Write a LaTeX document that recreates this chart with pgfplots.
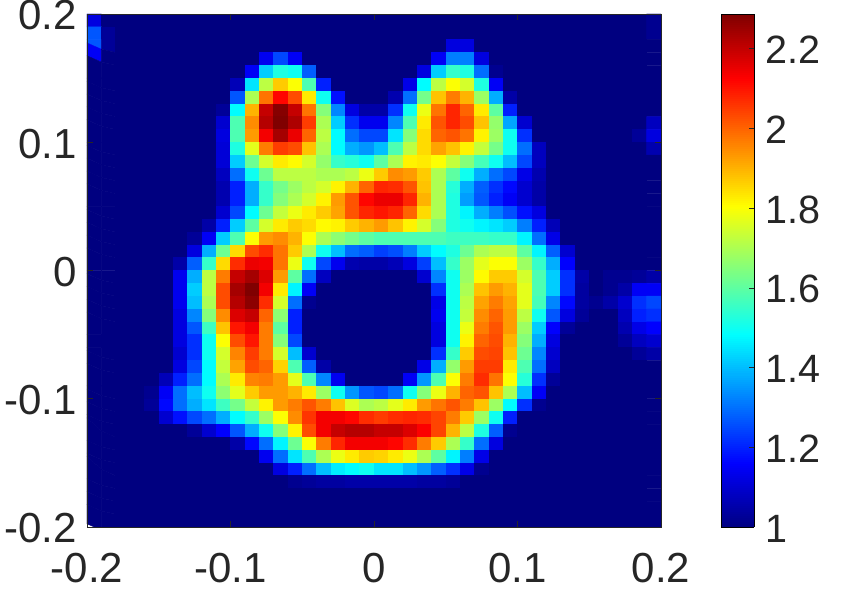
\documentclass[border=0pt]{standalone}
\usepackage{pgfplots}
\pgfplotsset{compat=1.18}
\usepackage{fontspec}
\setmainfont{Liberation Sans}
\definecolor{mg}{gray}{0.15}
\begin{document}
\begin{tikzpicture}
\path[use as bounding box] (0pt,0pt) rectangle (847pt,591pt);
\begin{axis}[
  at={(87pt,64pt)}, anchor=south west,
  scale only axis, width=574pt, height=513pt,
  xmin=-0.2, xmax=0.2, ymin=-0.2, ymax=0.2,
  xtick={-0.2,-0.1,0,0.1,0.2}, ytick={-0.2,-0.1,0,0.1,0.2},
  xticklabels={-0.2,-0.1,0,0.1,0.2}, yticklabels={-0.2,-0.1,0,0.1,0.2},
  scaled ticks=false,
  tick align=inside, tick style={mg, line width=0.5pt}, major tick length=5.7pt,
  axis line style={mg, line width=0.5pt},
  tick pos=both,
  ticklabel style={font=\fontsize{42}{44}\selectfont, text=mg},
  xticklabel style={yshift=-23pt},
  yticklabel style={xshift=-7pt, yshift=-1.5pt},
  axis on top,
  colormap/jet,
  point meta min=1, point meta max=2.287,
  colorbar sampled,
  colorbar style={
    at={(parent axis.north east)}, anchor=north west, xshift=51.5pt,
    width=33pt, samples=257,
    ytick={1,1.2,1.4,1.6,1.8,2,2.2},
    yticklabels={1,1.2,1.4,1.6,1.8,2,2.2},
    tick align=inside, major tick length=5pt, ytick pos=right,
    tick style={mg, line width=0.5pt},
    yticklabel style={font=\fontsize{39.5}{42}\selectfont, text=mg, xshift=8pt, yshift=-1.5pt},
  },
]
\addplot[matrix plot*, shader=faceted, faceted color=mapped color, line width=0.4pt, mesh/cols=40, point meta=explicit]
 table[row sep=crcr, header=false, meta index=0,
   x expr={-0.195+0.01*mod(\coordindex,40)},
   y expr={0.195-0.01*floor(\coordindex/40)}] {
1.12\\1\\1\\1\\1\\1\\1\\1\\1\\1\\ 1\\1\\1\\1\\1\\1\\1\\1\\1\\1\\ 1\\1\\1\\1\\1\\1\\1\\1\\1\\1\\ 1\\1\\1\\1\\1\\1\\1\\1\\1\\1.02\\
1.27\\1.03\\1\\1\\1\\1\\1\\1\\1\\1\\ 1\\1\\1\\1\\1\\1\\1\\1\\1\\1\\ 1\\1\\1\\1\\1\\1\\1\\1\\1\\1\\ 1\\1\\1\\1\\1\\1\\1\\1\\1\\1.02\\
1.27\\1.03\\1\\1\\1\\1\\1\\1\\1\\1\\ 1\\1\\1\\1\\1\\1\\1\\1\\1\\1\\ 1\\1\\1\\1\\1\\1.12\\1.12\\1\\1\\1\\ 1\\1\\1\\1\\1\\1\\1\\1\\1\\1\\
1.15\\1\\1\\1\\1\\1\\1\\1\\1\\1\\ 1\\1\\1.14\\1.25\\1.15\\1\\1\\1\\1\\1\\ 1\\1\\1\\1\\1.15\\1.32\\1.32\\1.12\\1\\1\\ 1\\1\\1\\1\\1\\1\\1\\1\\1\\1\\
1\\1\\1\\1\\1\\1\\1\\1\\1\\1\\ 1\\1.15\\1.42\\1.52\\1.5\\1.28\\1\\1\\1\\1\\ 1\\1\\1\\1.12\\1.42\\1.55\\1.52\\1.3\\1.02\\1\\ 1\\1\\1\\1\\1\\1\\1\\1\\1\\1\\
1\\1\\1\\1\\1\\1\\1\\1\\1\\1\\ 1.07\\1.45\\1.72\\1.87\\1.8\\1.58\\1.2\\1\\1\\1\\ 1\\1\\1.13\\1.48\\1.72\\1.8\\1.75\\1.52\\1.15\\1\\ 1\\1\\1\\1\\1\\1\\1\\1\\1\\1\\
1\\1\\1\\1\\1\\1\\1\\1\\1\\1\\ 1.27\\1.7\\1.98\\2.12\\2.03\\1.83\\1.5\\1.18\\1\\1\\ 1\\1.06\\1.3\\1.63\\1.88\\1.97\\1.9\\1.68\\1.38\\1.05\\ 1\\1\\1\\1\\1\\1\\1\\1\\1\\1\\
1\\1\\1\\1\\1\\1\\1\\1\\1\\1.03\\ 1.48\\1.9\\2.2\\2.28\\2.2\\1.98\\1.65\\1.33\\1.12\\1.05\\ 1.05\\1.22\\1.5\\1.78\\1.98\\2.08\\2\\1.83\\1.6\\1.2\\ 1\\1\\1\\1\\1\\1\\1\\1\\1\\1\\
1\\1\\1\\1\\1\\1\\1\\1\\1\\1.1\\ 1.58\\1.95\\2.22\\2.3\\2.23\\2.05\\1.7\\1.42\\1.22\\1.14\\ 1.14\\1.33\\1.58\\1.83\\2.02\\2.08\\2.03\\1.88\\1.67\\1.37\\ 1.1\\1\\1\\1\\1\\1\\1\\1\\1\\1.08\\
1\\1\\1\\1\\1\\1\\1\\1\\1\\1.12\\ 1.58\\1.93\\2.14\\2.24\\2.15\\2\\1.72\\1.48\\1.3\\1.25\\ 1.25\\1.45\\1.65\\1.85\\2\\2.02\\1.98\\1.82\\1.68\\1.5\\ 1.22\\1\\1\\1\\1\\1\\1\\1\\1.03\\1.12\\
1\\1\\1\\1\\1\\1\\1\\1\\1\\1.11\\ 1.52\\1.77\\1.97\\2.05\\2.03\\1.88\\1.7\\1.48\\1.38\\1.35\\ 1.4\\1.58\\1.72\\1.85\\1.92\\1.88\\1.82\\1.73\\1.63\\1.5\\ 1.3\\1.08\\1\\1\\1\\1\\1\\1\\1\\1.06\\
1\\1\\1\\1\\1\\1\\1\\1\\1\\1.11\\ 1.42\\1.62\\1.75\\1.83\\1.81\\1.75\\1.67\\1.55\\1.53\\1.5\\ 1.6\\1.7\\1.82\\1.83\\1.8\\1.73\\1.65\\1.57\\1.5\\1.4\\ 1.25\\1.08\\1\\1\\1\\1\\1\\1\\1\\1\\
1\\1\\1\\1\\1\\1\\1\\1\\1\\1.08\\ 1.3\\1.5\\1.62\\1.72\\1.72\\1.72\\1.7\\1.7\\1.72\\1.78\\ 1.87\\1.95\\1.93\\1.87\\1.7\\1.6\\1.5\\1.38\\1.3\\1.25\\ 1.13\\1.06\\1\\1\\1\\1\\1\\1\\1\\1\\
1\\1\\1\\1\\1\\1\\1\\1\\1\\1.06\\ 1.2\\1.38\\1.55\\1.63\\1.68\\1.72\\1.75\\1.82\\1.9\\2\\ 2.08\\2.07\\2.02\\1.88\\1.7\\1.53\\1.38\\1.28\\1.22\\1.17\\ 1.1\\1.05\\1\\1\\1\\1\\1\\1\\1\\1\\
1\\1\\1\\1\\1\\1\\1\\1\\1\\1.06\\ 1.2\\1.38\\1.55\\1.65\\1.7\\1.75\\1.82\\1.93\\2.02\\2.12\\ 2.15\\2.15\\2.08\\1.9\\1.7\\1.52\\1.36\\1.27\\1.2\\1.15\\ 1.1\\1.05\\1\\1\\1\\1\\1\\1\\1\\1\\
1\\1\\1\\1\\1\\1\\1\\1\\1\\1.1\\ 1.25\\1.48\\1.62\\1.73\\1.78\\1.83\\1.87\\1.92\\2.02\\2.08\\ 2.1\\2.08\\2\\1.85\\1.7\\1.52\\1.47\\1.38\\1.32\\1.26\\ 1.18\\1.12\\1\\1\\1\\1\\1\\1\\1\\1\\
1\\1\\1\\1\\1\\1\\1\\1\\1.05\\1.2\\ 1.42\\1.6\\1.75\\1.83\\1.87\\1.85\\1.81\\1.82\\1.87\\1.9\\ 1.93\\1.88\\1.82\\1.75\\1.65\\1.52\\1.5\\1.47\\1.45\\1.42\\ 1.32\\1.2\\1.07\\1\\1\\1\\1\\1\\1\\1\\
1\\1\\1\\1\\1\\1\\1\\1.03\\1.15\\1.42\\ 1.58\\1.8\\1.93\\1.95\\1.9\\1.8\\1.7\\1.66\\1.63\\1.6\\ 1.58\\1.58\\1.58\\1.58\\1.58\\1.56\\1.56\\1.56\\1.55\\1.55\\ 1.47\\1.3\\1.13\\1\\1\\1\\1\\1\\1\\1\\
1\\1\\1\\1\\1\\1\\1\\1.12\\1.38\\1.62\\ 1.85\\2.03\\2.07\\1.98\\1.87\\1.7\\1.5\\1.4\\1.3\\1.28\\ 1.24\\1.26\\1.32\\1.42\\1.48\\1.52\\1.62\\1.7\\1.72\\1.72\\ 1.6\\1.47\\1.28\\1.1\\1\\1\\1\\1\\1\\1\\
1\\1\\1\\1\\1\\1\\1.05\\1.28\\1.55\\1.85\\ 2.07\\2.15\\2.14\\1.98\\1.78\\1.5\\1.25\\1.14\\1.06\\1.05\\ 1.05\\1.07\\1.12\\1.24\\1.4\\1.55\\1.68\\1.77\\1.8\\1.8\\ 1.68\\1.55\\1.38\\1.16\\1\\1\\1\\1\\1\\1\\
1\\1\\1\\1\\1\\1\\1.14\\1.38\\1.72\\1.97\\ 2.2\\2.24\\2.17\\1.93\\1.6\\1.3\\1.08\\1\\1\\1\\ 1\\1\\1\\1.1\\1.33\\1.5\\1.68\\1.81\\1.87\\1.87\\ 1.75\\1.58\\1.42\\1.22\\1.05\\1\\1.02\\1.02\\1.03\\1.05\\
1\\1\\1\\1\\1\\1\\1.14\\1.42\\1.72\\2.03\\ 2.24\\2.3\\2.14\\1.83\\1.47\\1.15\\1\\1\\1\\1\\ 1\\1\\1\\1\\1.22\\1.5\\1.7\\1.88\\1.93\\1.9\\ 1.77\\1.58\\1.42\\1.22\\1.04\\1\\1.02\\1.05\\1.15\\1.15\\
1\\1\\1\\1\\1\\1\\1.14\\1.4\\1.7\\2.03\\ 2.22\\2.27\\2.07\\1.75\\1.3\\1.02\\1\\1\\1\\1\\ 1\\1\\1\\1\\1.13\\1.5\\1.72\\1.92\\1.97\\1.92\\ 1.77\\1.57\\1.33\\1.17\\1.04\\1.02\\1.05\\1.1\\1.22\\1.25\\
1\\1\\1\\1\\1\\1\\1.12\\1.33\\1.65\\1.95\\ 2.17\\2.2\\2\\1.66\\1.2\\1\\1\\1\\1\\1\\ 1\\1\\1\\1\\1.14\\1.5\\1.73\\1.95\\2\\1.93\\ 1.72\\1.5\\1.27\\1.12\\1.03\\1\\1\\1.08\\1.2\\1.22\\
1\\1\\1\\1\\1\\1\\1.12\\1.27\\1.56\\1.88\\ 2.1\\2.14\\1.97\\1.6\\1.2\\1\\1\\1\\1\\1\\ 1\\1\\1\\1\\1.12\\1.5\\1.78\\1.97\\2.02\\1.93\\ 1.68\\1.42\\1.16\\1.03\\1\\1\\1\\1.06\\1.13\\1.16\\
1\\1\\1\\1\\1\\1\\1.12\\1.22\\1.5\\1.8\\ 2.03\\2.1\\1.97\\1.65\\1.25\\1\\1\\1\\1\\1\\ 1\\1\\1\\1\\1.12\\1.5\\1.82\\2\\2.03\\1.9\\ 1.65\\1.38\\1.12\\1\\1\\1\\1\\1.03\\1.08\\1.1\\
1\\1\\1\\1\\1\\1\\1.1\\1.22\\1.5\\1.75\\ 1.96\\2.05\\1.97\\1.75\\1.4\\1.1\\1\\1\\1\\1\\ 1\\1\\1\\1\\1.22\\1.55\\1.87\\2.03\\2.04\\1.88\\ 1.62\\1.33\\1.1\\1\\1\\1\\1\\1\\1.03\\1.05\\
1\\1\\1\\1\\1\\1\\1.12\\1.25\\1.48\\1.73\\ 1.92\\2.03\\2\\1.86\\1.58\\1.28\\1.05\\1\\1\\1\\ 1\\1\\1\\1.13\\1.38\\1.67\\1.93\\2.05\\2.05\\1.83\\ 1.58\\1.3\\1.08\\1\\1\\1\\1\\1\\1\\1\\
1\\1\\1\\1\\1\\1.07\\1.2\\1.3\\1.48\\1.7\\ 1.83\\1.96\\1.97\\1.93\\1.77\\1.58\\1.33\\1.14\\1\\1\\ 1\\1\\1.15\\1.35\\1.58\\1.8\\1.97\\2.07\\1.98\\1.8\\ 1.53\\1.22\\1.03\\1\\1\\1\\1\\1\\1\\1\\
1\\1\\1\\1\\1.02\\1.15\\1.3\\1.4\\1.5\\1.66\\ 1.77\\1.87\\1.93\\1.93\\1.9\\1.83\\1.68\\1.5\\1.35\\1.27\\ 1.25\\1.3\\1.5\\1.65\\1.78\\1.9\\2\\2.02\\1.88\\1.7\\ 1.4\\1.15\\1\\1\\1\\1\\1\\1\\1\\1\\
1\\1\\1\\1\\1.03\\1.17\\1.3\\1.38\\1.45\\1.56\\ 1.63\\1.73\\1.82\\1.93\\1.97\\2.02\\1.97\\1.88\\1.76\\1.7\\ 1.72\\1.77\\1.83\\1.93\\1.98\\2.02\\1.97\\1.88\\1.68\\1.48\\ 1.22\\1.02\\1\\1\\1\\1\\1\\1\\1\\1\\
1\\1\\1\\1\\1\\1.1\\1.18\\1.25\\1.3\\1.38\\ 1.48\\1.55\\1.68\\1.8\\1.95\\2.06\\2.14\\2.14\\2.12\\2.07\\ 2.05\\2.07\\2.08\\2.07\\2.04\\1.97\\1.87\\1.68\\1.5\\1.2\\ 1\\1\\1\\1\\1\\1\\1\\1\\1\\1\\
1\\1\\1\\1\\1\\1\\1\\1.03\\1.1\\1.16\\ 1.27\\1.38\\1.5\\1.65\\1.82\\2.03\\2.14\\2.2\\2.22\\2.22\\ 2.2\\2.2\\2.17\\2.13\\2.04\\1.9\\1.72\\1.52\\1.28\\1.02\\ 1\\1\\1\\1\\1\\1\\1\\1\\1\\1\\
1\\1\\1\\1\\1\\1\\1\\1\\1\\1\\ 1.05\\1.17\\1.3\\1.47\\1.62\\1.8\\1.97\\2.08\\2.14\\2.14\\ 2.14\\2.12\\2.07\\1.97\\1.87\\1.7\\1.55\\1.3\\1.12\\1\\ 1\\1\\1\\1\\1\\1\\1\\1\\1\\1\\
1\\1\\1\\1\\1\\1\\1\\1\\1\\1\\ 1\\1\\1.14\\1.3\\1.45\\1.58\\1.7\\1.78\\1.83\\1.87\\ 1.86\\1.83\\1.78\\1.7\\1.6\\1.47\\1.32\\1.13\\1\\1\\ 1\\1\\1\\1\\1\\1\\1\\1\\1\\1\\
1\\1\\1\\1\\1\\1\\1\\1\\1\\1\\ 1\\1\\1\\1.12\\1.2\\1.3\\1.4\\1.46\\1.48\\1.5\\ 1.45\\1.45\\1.4\\1.35\\1.28\\1.22\\1.13\\1.02\\1\\1\\ 1\\1\\1\\1\\1\\1\\1\\1\\1\\1\\
1\\1\\1\\1\\1\\1\\1\\1\\1\\1\\ 1\\1\\1\\1\\1.02\\1.03\\1.04\\1.04\\1.05\\1.05\\ 1.05\\1.05\\1.05\\1.04\\1.04\\1.03\\1\\1\\1\\1\\ 1\\1\\1\\1\\1\\1\\1\\1\\1\\1\\
1\\1\\1\\1\\1\\1\\1\\1\\1\\1\\ 1\\1\\1\\1\\1\\1\\1\\1\\1\\1\\ 1\\1\\1\\1\\1\\1\\1\\1\\1\\1\\ 1\\1\\1\\1\\1\\1\\1\\1\\1\\1\\
1\\1\\1\\1\\1\\1\\1\\1\\1\\1\\ 1\\1\\1\\1\\1\\1\\1\\1\\1\\1\\ 1\\1\\1\\1\\1\\1\\1\\1\\1\\1\\ 1\\1\\1\\1\\1\\1\\1\\1\\1\\1\\
1\\1\\1\\1\\1\\1\\1\\1\\1\\1\\ 1\\1\\1\\1\\1\\1\\1\\1\\1\\1\\ 1\\1\\1\\1\\1\\1\\1\\1\\1\\1\\ 1\\1\\1\\1\\1\\1\\1\\1\\1\\1\\
};
\end{axis}
\end{tikzpicture}
\end{document}
